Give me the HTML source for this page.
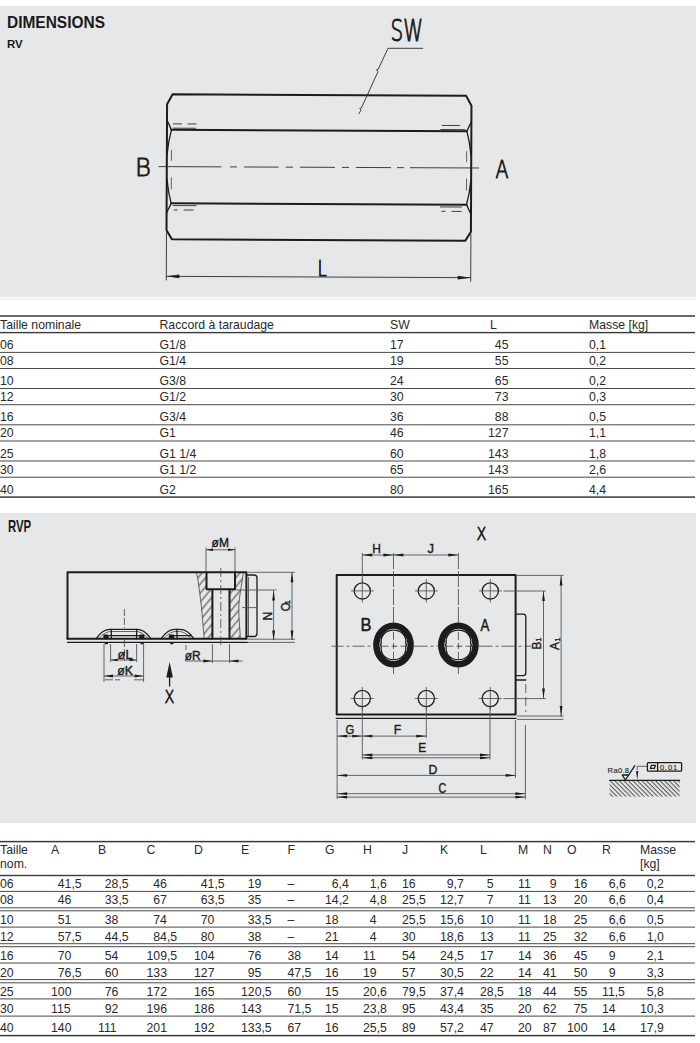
<!DOCTYPE html>
<html lang="fr">
<head>
<meta charset="utf-8">
<title>Dimensions RV / RVP</title>
<style>
html,body{margin:0;padding:0;background:#fff;}
body{font-family:"Liberation Sans",sans-serif;color:#222;}
#page{position:relative;width:700px;height:1043px;overflow:hidden;background:#fff;}
.panel{position:absolute;left:0;width:696px;background:#e6e7e8;}
.title{position:absolute;left:7px;top:14px;margin:0;font-size:15.6px;line-height:18px;font-weight:bold;color:#1a1a1a;white-space:nowrap;transform:scaleX(0.992);transform-origin:0 0;}
.sub{position:absolute;left:7px;margin:0;font-size:11.4px;line-height:12px;font-weight:bold;color:#1a1a1a;white-space:nowrap;}
.tbl{position:absolute;left:0;top:0;width:695px;font-size:12.25px;color:#2a2a2a;}
.row{position:absolute;left:0;width:695px;box-sizing:border-box;}
.row span{position:absolute;white-space:nowrap;line-height:14px;}
.row.g{transform:scaleY(1.1);transform-origin:0 11px;}
.row.g2{transform:scaleY(1.08);transform-origin:0 11px;}
.ln{position:absolute;left:0;width:695px;background:#5a5a5a;}
.ln.thick{background:#404040;}
svg{position:absolute;left:0;top:0;}
svg text{font-family:"Liberation Sans",sans-serif;fill:#1c1c1c;}
svg .lt{font-family:"DejaVu Sans Light","DejaVu Sans","Liberation Sans",sans-serif;}
.k{stroke:#1c1c1c;fill:none;stroke-width:2;stroke-linecap:round;stroke-linejoin:round;}
.m{stroke:#1c1c1c;fill:none;stroke-width:1.3;stroke-linecap:round;stroke-linejoin:round;}
.t{stroke:#4c4c4c;fill:none;stroke-width:0.85;}
.a{fill:#1c1c1c;stroke:none;}
.d{stroke:#2c2c2c;fill:none;stroke-width:0.9;}
</style>
</head>
<body>
<div id="page">
<div class="panel" style="top:6px;height:291.2px"></div>
<div class="panel" style="top:298px;height:2.4px;background:#f2f2f3"></div>
<div class="panel" style="top:512.5px;height:310px"></div>
<h1 class="title">DIMENSIONS</h1>
<div class="sub" style="top:37.6px">RV</div>
<div class="sub" style="left:8px;top:518.4px;transform:scaleY(1.4);transform-origin:0 0">RVP</div>
<svg class="rules" width="700" height="1043" viewBox="0 0 700 1043"><rect x="0" y="315.25" width="695" height="1.5" fill="#3a3a3a"/><rect x="0" y="331.90" width="695" height="1.4" fill="#3a3a3a"/><rect x="0" y="351.90" width="695" height="1" fill="#4a4a4a"/><rect x="0" y="368.00" width="695" height="1" fill="#4a4a4a"/><rect x="0" y="388.00" width="695" height="1" fill="#4a4a4a"/><rect x="0" y="404.20" width="695" height="1" fill="#4a4a4a"/><rect x="0" y="424.30" width="695" height="1" fill="#4a4a4a"/><rect x="0" y="440.50" width="695" height="1" fill="#4a4a4a"/><rect x="0" y="460.50" width="695" height="1" fill="#4a4a4a"/><rect x="0" y="476.70" width="695" height="1" fill="#4a4a4a"/><rect x="0" y="496.35" width="695" height="1.5" fill="#3a3a3a"/></svg>
<div class="tbl" id="t1">
<div class="row" style="top:318.4px;height:14px">
<span style="left:0">Taille nominale</span><span style="left:159.5px">Raccord à taraudage</span><span style="left:390px">SW</span>
<span style="left:490px">L</span>
<span style="left:589px">Masse [kg]</span></div>
<div class="row g" style="top:338.1px;height:14px">
<span style="left:0">06</span><span style="left:159.5px">G1/8</span><span style="left:390px">17</span>
<span style="right:186.5px">45</span>
<span style="left:589px">0,1</span></div>
<div class="row" style="top:354.1px;height:14px">
<span style="left:0">08</span><span style="left:159.5px">G1/4</span><span style="left:390px">19</span>
<span style="right:186.5px">55</span>
<span style="left:589px">0,2</span></div>
<div class="row g" style="top:374.1px;height:14px">
<span style="left:0">10</span><span style="left:159.5px">G3/8</span><span style="left:390px">24</span>
<span style="right:186.5px">65</span>
<span style="left:589px">0,2</span></div>
<div class="row" style="top:390.1px;height:14px">
<span style="left:0">12</span><span style="left:159.5px">G1/2</span><span style="left:390px">30</span>
<span style="right:186.5px">73</span>
<span style="left:589px">0,3</span></div>
<div class="row g" style="top:410.4px;height:14px">
<span style="left:0">16</span><span style="left:159.5px">G3/4</span><span style="left:390px">36</span>
<span style="right:186.5px">88</span>
<span style="left:589px">0,5</span></div>
<div class="row" style="top:426.3px;height:14px">
<span style="left:0">20</span><span style="left:159.5px">G1</span><span style="left:390px">46</span>
<span style="right:186.5px">127</span>
<span style="left:589px">1,1</span></div>
<div class="row g" style="top:446.6px;height:14px">
<span style="left:0">25</span><span style="left:159.5px">G1 1/4</span><span style="left:390px">60</span>
<span style="right:186.5px">143</span>
<span style="left:589px">1,8</span></div>
<div class="row" style="top:462.5px;height:14px">
<span style="left:0">30</span><span style="left:159.5px">G1 1/2</span><span style="left:390px">65</span>
<span style="right:186.5px">143</span>
<span style="left:589px">2,6</span></div>
<div class="row g" style="top:482.5px;height:14px">
<span style="left:0">40</span><span style="left:159.5px">G2</span><span style="left:390px">80</span>
<span style="right:186.5px">165</span>
<span style="left:589px">4,4</span></div>
</div>
<svg class="rules" width="700" height="1043" viewBox="0 0 700 1043"><rect x="0" y="840.85" width="695" height="1.5" fill="#3a3a3a"/><rect x="0" y="874.80" width="695" height="1.4" fill="#3a3a3a"/><rect x="0" y="890.90" width="695" height="1" fill="#4a4a4a"/><rect x="0" y="907.30" width="695" height="1" fill="#4a4a4a"/><rect x="0" y="910.30" width="695" height="1" fill="#4a4a4a"/><rect x="0" y="926.60" width="695" height="1" fill="#4a4a4a"/><rect x="0" y="943.20" width="695" height="1" fill="#4a4a4a"/><rect x="0" y="946.20" width="695" height="1" fill="#4a4a4a"/><rect x="0" y="962.50" width="695" height="1" fill="#4a4a4a"/><rect x="0" y="979.10" width="695" height="1" fill="#4a4a4a"/><rect x="0" y="982.30" width="695" height="1" fill="#4a4a4a"/><rect x="0" y="998.40" width="695" height="1" fill="#4a4a4a"/><rect x="0" y="1015.60" width="695" height="1" fill="#4a4a4a"/><rect x="0" y="1034.85" width="695" height="1.5" fill="#3a3a3a"/></svg>
<div class="tbl" id="t2">
<div class="row" style="top:843.3px;height:30px">
<span style="left:0px;line-height:14px">Taille<br>nom.</span>
<span style="left:51px;line-height:14px">A</span>
<span style="left:98px;line-height:14px">B</span>
<span style="left:146.5px;line-height:14px">C</span>
<span style="left:194px;line-height:14px">D</span>
<span style="left:241px;line-height:14px">E</span>
<span style="left:287.5px;line-height:14px">F</span>
<span style="left:325px;line-height:14px">G</span>
<span style="left:363px;line-height:14px">H</span>
<span style="left:402px;line-height:14px">J</span>
<span style="left:440px;line-height:14px">K</span>
<span style="left:480px;line-height:14px">L</span>
<span style="left:518px;line-height:14px">M</span>
<span style="left:543px;line-height:14px">N</span>
<span style="left:567px;line-height:14px">O</span>
<span style="left:602px;line-height:14px">R</span>
<span style="left:640px;line-height:14px">Masse<br>[kg]</span>
</div>
<div class="row" style="top:876.8px;height:14px">
<span style="left:0.0px">06</span>
<span style="left:57.8px">41,5</span>
<span style="left:104.8px">28,5</span>
<span style="left:153.3px">46</span>
<span style="left:200.8px">41,5</span>
<span style="left:247.8px">19</span>
<span style="left:287.5px">–</span>
<span style="left:331.8px">6,4</span>
<span style="left:369.8px">1,6</span>
<span style="left:402.0px">16</span>
<span style="left:446.8px">9,7</span>
<span style="left:486.8px">5</span>
<span style="left:518.0px">11</span>
<span style="left:549.8px">9</span>
<span style="left:573.8px">16</span>
<span style="left:608.8px">6,6</span>
<span style="left:646.8px">0,2</span>
</div>
<div class="row" style="top:893.2px;height:14px">
<span style="left:0.0px">08</span>
<span style="left:57.8px">46</span>
<span style="left:104.8px">33,5</span>
<span style="left:153.3px">67</span>
<span style="left:200.8px">63,5</span>
<span style="left:247.8px">35</span>
<span style="left:287.5px">–</span>
<span style="left:325.0px">14,2</span>
<span style="left:369.8px">4,8</span>
<span style="left:402.0px">25,5</span>
<span style="left:440.0px">12,7</span>
<span style="left:486.8px">7</span>
<span style="left:518.0px">11</span>
<span style="left:543.0px">13</span>
<span style="left:573.8px">20</span>
<span style="left:608.8px">6,6</span>
<span style="left:646.8px">0,4</span>
</div>
<div class="row" style="top:913.1px;height:14px">
<span style="left:0.0px">10</span>
<span style="left:57.8px">51</span>
<span style="left:104.8px">38</span>
<span style="left:153.3px">74</span>
<span style="left:200.8px">70</span>
<span style="left:247.8px">33,5</span>
<span style="left:287.5px">–</span>
<span style="left:325.0px">18</span>
<span style="left:369.8px">4</span>
<span style="left:402.0px">25,5</span>
<span style="left:440.0px">15,6</span>
<span style="left:480.0px">10</span>
<span style="left:518.0px">11</span>
<span style="left:543.0px">18</span>
<span style="left:573.8px">25</span>
<span style="left:608.8px">6,6</span>
<span style="left:646.8px">0,5</span>
</div>
<div class="row" style="top:929.5px;height:14px">
<span style="left:0.0px">12</span>
<span style="left:57.8px">57,5</span>
<span style="left:104.8px">44,5</span>
<span style="left:153.3px">84,5</span>
<span style="left:200.8px">80</span>
<span style="left:247.8px">38</span>
<span style="left:287.5px">–</span>
<span style="left:325.0px">21</span>
<span style="left:369.8px">4</span>
<span style="left:402.0px">30</span>
<span style="left:440.0px">18,6</span>
<span style="left:480.0px">13</span>
<span style="left:518.0px">11</span>
<span style="left:543.0px">25</span>
<span style="left:573.8px">32</span>
<span style="left:608.8px">6,6</span>
<span style="left:646.8px">1,0</span>
</div>
<div class="row" style="top:949.0px;height:14px">
<span style="left:0.0px">16</span>
<span style="left:57.8px">70</span>
<span style="left:104.8px">54</span>
<span style="left:146.5px">109,5</span>
<span style="left:194.0px">104</span>
<span style="left:247.8px">76</span>
<span style="left:287.5px">38</span>
<span style="left:325.0px">14</span>
<span style="left:363.0px">11</span>
<span style="left:402.0px">54</span>
<span style="left:440.0px">24,5</span>
<span style="left:480.0px">17</span>
<span style="left:518.0px">14</span>
<span style="left:543.0px">36</span>
<span style="left:573.8px">45</span>
<span style="left:608.8px">9</span>
<span style="left:646.8px">2,1</span>
</div>
<div class="row" style="top:965.6px;height:14px">
<span style="left:0.0px">20</span>
<span style="left:57.8px">76,5</span>
<span style="left:104.8px">60</span>
<span style="left:146.5px">133</span>
<span style="left:194.0px">127</span>
<span style="left:247.8px">95</span>
<span style="left:287.5px">47,5</span>
<span style="left:325.0px">16</span>
<span style="left:363.0px">19</span>
<span style="left:402.0px">57</span>
<span style="left:440.0px">30,5</span>
<span style="left:480.0px">22</span>
<span style="left:518.0px">14</span>
<span style="left:543.0px">41</span>
<span style="left:573.8px">50</span>
<span style="left:608.8px">9</span>
<span style="left:646.8px">3,3</span>
</div>
<div class="row" style="top:984.9px;height:14px">
<span style="left:0.0px">25</span>
<span style="left:51.0px">100</span>
<span style="left:104.8px">76</span>
<span style="left:146.5px">172</span>
<span style="left:194.0px">165</span>
<span style="left:241.0px">120,5</span>
<span style="left:287.5px">60</span>
<span style="left:325.0px">15</span>
<span style="left:363.0px">20,6</span>
<span style="left:402.0px">79,5</span>
<span style="left:440.0px">37,4</span>
<span style="left:480.0px">28,5</span>
<span style="left:518.0px">18</span>
<span style="left:543.0px">44</span>
<span style="left:573.8px">55</span>
<span style="left:602.0px">11,5</span>
<span style="left:646.8px">5,8</span>
</div>
<div class="row" style="top:1001.9px;height:14px">
<span style="left:0.0px">30</span>
<span style="left:51.0px">115</span>
<span style="left:104.8px">92</span>
<span style="left:146.5px">196</span>
<span style="left:194.0px">186</span>
<span style="left:241.0px">143</span>
<span style="left:287.5px">71,5</span>
<span style="left:325.0px">15</span>
<span style="left:363.0px">23,8</span>
<span style="left:402.0px">95</span>
<span style="left:440.0px">43,4</span>
<span style="left:480.0px">35</span>
<span style="left:518.0px">20</span>
<span style="left:543.0px">62</span>
<span style="left:573.8px">75</span>
<span style="left:602.0px">14</span>
<span style="left:640.0px">10,3</span>
</div>
<div class="row g2" style="top:1021.4px;height:14px">
<span style="left:0.0px">40</span>
<span style="left:51.0px">140</span>
<span style="left:98.0px">111</span>
<span style="left:146.5px">201</span>
<span style="left:194.0px">192</span>
<span style="left:241.0px">133,5</span>
<span style="left:287.5px">67</span>
<span style="left:325.0px">16</span>
<span style="left:363.0px">25,5</span>
<span style="left:402.0px">89</span>
<span style="left:440.0px">57,2</span>
<span style="left:480.0px">47</span>
<span style="left:518.0px">20</span>
<span style="left:543.0px">87</span>
<span style="left:567.0px">100</span>
<span style="left:602.0px">14</span>
<span style="left:640.0px">17,9</span>
</div>
</div>
<svg width="700" height="1043" viewBox="0 0 700 1043">
<g transform="rotate(0.25 319 167)">
<path class="k" d="M172.3,95.0 H465.7 L471.2,105.0 V231.0 L465.7,240.0 H172.3 L166.8,231.0 V105.0 Z"/>
<path class="k" d="M171.3,130.5 H466.7 M171.3,204.0 H466.7"/>
<path class="m" stroke-width="1.5" d="M171.3,130.5 L167.10000000000002,121.5 M171.3,204.0 L167.10000000000002,213.0 M466.7,130.5 L470.9,121.5 M466.7,204.0 L470.9,213.0"/>
<path class="m" stroke-width="1.5" d="M171.3,130.5 C169.4,137.5 168.0,144.5 167.10000000000002,154.5 M171.3,204.0 C169.4,197.0 168.0,190.0 167.10000000000002,180.0 M466.7,130.5 C468.59999999999997,137.5 470.0,144.5 470.9,154.5 M466.7,204.0 C468.59999999999997,197.0 470.0,190.0 470.9,180.0"/>
<path class="t" d="M171.4,150.5 V161.5 M171.4,178.0 V190.0 M466.59999999999997,150.5 V161.5 M466.59999999999997,178.0 V190.0"/>
<path class="d" stroke-width="0.8" d="M172.8,124.5 h9 m5.5,0 h9 M173.8,210.6 h4 m6,0 h10"/>
<path class="d" stroke-width="1.1" d="M172.8,128.8 h23 M172.8,206.2 h24"/>
<path class="d" stroke-width="0.8" d="M441.7,124.9 h18 M441.7,210.8 h4 m6,0 h10"/>
<path class="d" stroke-width="1.1" d="M440.2,129.0 h25 M440.2,206.4 h22"/>
<path class="d" stroke-width="0.7" d="M158.6,167.3 H221.4 M230,167.3 H237 M244,167.3 H278.6 M285.7,167.3 H293 M300,167.3 H335 M342,167.3 H349 M356,167.3 H391 M397,167.3 H404 M410,167.3 H479"/>
<path class="d" d="M166.8,233.0 V281 M471.2,233.0 V281 M166.8,277 H471.2"/>
<polygon class="a" points="166.8,277.0 179.8,275.2 179.8,278.8"/>
<polygon class="a" points="471.2,277.0 458.2,278.8 458.2,275.2"/>
</g>
<path class="d" d="M423.2,48.3 H388 L378.2,69.4 l-1.8,0.5 l1.7,1.5 L361.4,108 l-1.7,0.4 l1.5,1.6 L358.6,114"/>
<text class="lt" transform="translate(390.4,41.2) scale(0.66,1)" font-size="30.4" stroke="#1c1c1c" stroke-width="0.9" vector-effect="non-scaling-stroke" stroke-linejoin="round">SW</text>
<text class="lt" transform="translate(135.0,175.8) scale(0.977,1)" font-size="24.9" stroke="#1c1c1c" stroke-width="0.9" vector-effect="non-scaling-stroke" stroke-linejoin="round">B</text>
<text class="lt" transform="translate(495.6,177.8) scale(0.75,1)" font-size="25.4" stroke="#1c1c1c" stroke-width="0.9" vector-effect="non-scaling-stroke" stroke-linejoin="round">A</text>
<text class="lt" transform="translate(317.4,275.8) scale(0.78,1)" font-size="21.4" stroke="#1c1c1c" stroke-width="0.9" vector-effect="non-scaling-stroke" stroke-linejoin="round">L</text>
</svg>
<svg width="700" height="1043" viewBox="0 0 700 1043">
<defs><pattern id="hatch" width="5.8" height="5.8" patternUnits="userSpaceOnUse" patternTransform="rotate(40)"><line x1="1" y1="-1" x2="1" y2="7" stroke="#222" stroke-width="0.85"/></pattern>
<pattern id="hatch2" width="3.2" height="3.2" patternUnits="userSpaceOnUse" patternTransform="rotate(-45)"><line x1="1" y1="-1" x2="1" y2="5" stroke="#2a2a2a" stroke-width="0.8"/></pattern></defs>
<path fill="url(#hatch)" stroke="none" d="M196.3,572.3 C198.5,580 198.5,586 199.6,592 C201,602 202,612 202.6,620 C203.2,628 203.8,634 204.4,638.8 H212.5 V589.5 H206.5 V572.3 Z"/>
<path fill="url(#hatch)" stroke="none" d="M240.3,638.8 C240,628 238.6,618 238.8,607 C239,596 242,584 243.4,572.3 H234.5 V589.5 H229 V638.8 Z"/>
<path class="t" d="M196.3,572.3 C198.5,580 198.5,586 199.6,592 C201,602 202,612 202.6,620 C203.2,628 203.8,634 204.4,638.8 M240.3,638.8 C240,628 238.6,618 238.8,607 C239,596 242,584 243.4,572.3"/>
<path class="k" stroke-width="1.4" d="M67.5,638.8 V572.3 H246.4 V638.8"/>
<path class="k" stroke-width="1.3" d="M67.5,638.8 H246.4"/>
<path class="m" stroke-width="1.2" d="M67.5,642.3 H247.4"/>
<path class="k" stroke-width="1.3" d="M206.5,572.3 V589.3 H235 V572.3 M212.4,589.3 V638.8 M229.5,589.3 V638.8"/>
<path class="t" d="M220.8,568 V646" stroke-dasharray="9 3 2 3"/>
<path class="m" d="M246.4,575 H254 Q257,575 257,578 V633.5 Q257,636.5 254,636.5 H246.4"/>
<path class="t" d="M248.5,577 V636 M242,607.6 H257.6"/>
<path class="m" stroke-width="0.85" d="M96,638.8 C99,634.3 104,629.3 110,629.3 H137 C143,629.3 148,634.3 151,638.8"/><path class="t" d="M99,638.3 C102,635.3 106,631.5 111,631.5 H136 C141,631.5 145,635.3 148,638.3"/><rect class="a" x="103.3" y="634.4" width="5.4" height="4.8" rx="1.4"/><ellipse class="a" cx="106.3" cy="643.4" rx="1.8" ry="0.9"/><rect class="a" x="139.10000000000002" y="634.4" width="5.4" height="4.8" rx="1.4"/><ellipse class="a" cx="142.10000000000002" cy="643.4" rx="1.8" ry="0.9"/>
<path class="m" stroke-width="1.1" d="M111.3,629.5 V638.8 M136.6,629.5 V638.8 M109,635.6 H139"/>
<path class="m" stroke-width="0.85" d="M161,638.8 C164,634.3 169,629.3 175,629.3 H180 C186,629.3 191,634.3 194,638.8"/><path class="t" d="M164,638.3 C167,635.3 171,631.5 176,631.5 H179 C184,631.5 188,635.3 191,638.3"/><rect class="a" x="168.8" y="634.4" width="5.4" height="4.8" rx="1.4"/><ellipse class="a" cx="171.8" cy="643.4" rx="1.8" ry="0.9"/>
<path class="m" stroke-width="1.1" d="M177,629.5 V638.8 M174,635.6 H191"/>
<path class="t" d="M124.4,609 V628 M124.4,640 V661" stroke-dasharray="7 2"/>
<path class="t" d="M206,547.5 V572.3 M235,547.5 V572.3 M206,549.8 H235"/>
<polygon class="a" points="206.0,549.8 213.0,548.5 213.0,551.1"/>
<polygon class="a" points="235.0,549.8 228.0,551.1 228.0,548.5"/>
<text transform="translate(211.6,547.4) scale(0.95,1)" font-size="12.6" stroke="#1c1c1c" stroke-width="0.4" vector-effect="non-scaling-stroke" stroke-linejoin="round">øM</text>
<path class="t" d="M110.6,644 V662 M136.6,644 V662 M110.6,660 H136.6 M104,644 V682 M143.6,644 V682 M104,676 H143.6"/>
<path class="t" d="M105,679.8 h8 m2,0 h5 M134,679.8 h10"/>
<polygon class="a" points="110.6,660.0 117.6,658.7 117.6,661.3"/>
<polygon class="a" points="136.6,660.0 129.6,661.3 129.6,658.7"/>
<polygon class="a" points="104.0,676.0 113.0,674.6 113.0,677.4"/>
<polygon class="a" points="143.6,676.0 134.6,677.4 134.6,674.6"/>
<text transform="translate(117.6,658.8) scale(0.98,1)" font-size="13" stroke="#1c1c1c" stroke-width="0.4" vector-effect="non-scaling-stroke" stroke-linejoin="round">øL</text>
<text transform="translate(117.2,675.1) scale(0.95,1)" font-size="13" stroke="#1c1c1c" stroke-width="0.4" vector-effect="non-scaling-stroke" stroke-linejoin="round">øK</text>
<path class="t" d="M212.4,644 V663 M229.5,644 V663 M185,661 H242.5 M186,645 V650" />
<polygon class="a" points="212.4,661.0 203.4,662.4 203.4,659.6"/>
<polygon class="a" points="229.5,661.0 238.5,659.6 238.5,662.4"/>
<text transform="translate(184.8,659.6) scale(0.95,1)" font-size="12.6" stroke="#1c1c1c" stroke-width="0.4" vector-effect="non-scaling-stroke" stroke-linejoin="round">øR</text>
<path class="m" stroke-width="1.5" d="M169.6,674 V686"/>
<polygon class="a" points="169.6,662.0 172.9,677.5 166.3,677.5"/>
<text class="lt" transform="translate(164.4,703.2) scale(0.82,1)" font-size="17.6" stroke="#1c1c1c" stroke-width="0.8" vector-effect="non-scaling-stroke" stroke-linejoin="round">X</text>
<path class="t" d="M247.4,572.3 H295 M235.5,590 H276.4 M248,639.2 H295 M248,642.4 H295 M273.6,590.4 V640 M292,572.3 V640"/>
<polygon class="a" points="273.6,590.4 275.0,600.4 272.2,600.4"/>
<polygon class="a" points="273.6,640.5 272.2,630.5 275.0,630.5"/>
<polygon class="a" points="292.0,572.3 293.4,582.3 290.6,582.3"/>
<polygon class="a" points="292.0,640.5 290.6,630.5 293.4,630.5"/>
<text transform="translate(272.4,620.6) rotate(-90) scale(0.95,1)" font-size="12.6" stroke="#1c1c1c" stroke-width="0.4" vector-effect="non-scaling-stroke" stroke-linejoin="round">N</text>
<text transform="translate(289.6,611.2) rotate(-90) scale(0.9,1)" font-size="12.6" stroke="#1c1c1c" stroke-width="0.4" vector-effect="non-scaling-stroke" stroke-linejoin="round">O</text>
<text transform="translate(289.6,604.0) rotate(-90)" font-size="7" stroke="#1c1c1c" stroke-width="0.4" vector-effect="non-scaling-stroke" stroke-linejoin="round">1</text>
<rect class="k" stroke-width="1.5" x="336.7" y="575.0" width="178.90000000000003" height="139.60000000000002"/>
<path class="m" stroke-width="1.3" d="M336.2,718.3 H516.1"/>
<circle class="m" stroke-width="1.8" cx="362.3" cy="590.9" r="8.1"/>
<path class="t" stroke="#777" d="M350.8,590.9 H373.8 M362.3,579.4 V602.4"/>
<circle class="m" stroke-width="1.8" cx="426.3" cy="590.9" r="8.1"/>
<path class="t" stroke="#777" d="M414.8,590.9 H437.8 M426.3,579.4 V602.4"/>
<circle class="m" stroke-width="1.8" cx="490.3" cy="590.9" r="8.1"/>
<path class="t" stroke="#777" d="M478.8,590.9 H501.8 M490.3,579.4 V602.4"/>
<circle class="m" stroke-width="1.8" cx="362.3" cy="698.5" r="8.1"/>
<path class="t" stroke="#777" d="M350.8,698.5 H373.8 M362.3,687.0 V710.0"/>
<circle class="m" stroke-width="1.8" cx="426.3" cy="698.5" r="8.1"/>
<path class="t" stroke="#777" d="M414.8,698.5 H437.8 M426.3,687.0 V710.0"/>
<circle class="m" stroke-width="1.8" cx="490.3" cy="698.5" r="8.1"/>
<path class="t" stroke="#777" d="M478.8,698.5 H501.8 M490.3,687.0 V710.0"/>
<ellipse cx="393.5" cy="644.9" rx="17.05" ry="19.2" fill="none" stroke="#1c1c1c" stroke-width="6.6"/>
<ellipse cx="393.5" cy="644.9" rx="13.5" ry="15.7" fill="none" stroke="#f4f4f4" stroke-width="0.9"/>
<path class="m" stroke-width="1" d="M381.3,643.4 C380.1,635.9 385.5,630.1 393.5,630.1 C401.5,630.1 406.9,635.9 405.7,643.4 L406.5,644.9 L405.7,646.4 C406.9,653.9 401.5,659.6999999999999 393.5,659.6999999999999 C385.5,659.6999999999999 380.1,653.9 381.3,646.4 L380.5,644.9 Z"/>
<path class="t" stroke="#555" d="M381.5,646.2 h7 m3,0 h4 m-2,0 h4 m3,0 h7 M393.5,631.9 v8 m0,3 v4 m0,-1 v3 m0,3 v8"/>
<ellipse cx="458.4" cy="644.9" rx="17.05" ry="19.2" fill="none" stroke="#1c1c1c" stroke-width="6.6"/>
<ellipse cx="458.4" cy="644.9" rx="13.5" ry="15.7" fill="none" stroke="#f4f4f4" stroke-width="0.9"/>
<path class="m" stroke-width="1" d="M446.2,643.4 C445.0,635.9 450.4,630.1 458.4,630.1 C466.4,630.1 471.79999999999995,635.9 470.59999999999997,643.4 L471.4,644.9 L470.59999999999997,646.4 C471.79999999999995,653.9 466.4,659.6999999999999 458.4,659.6999999999999 C450.4,659.6999999999999 445.0,653.9 446.2,646.4 L445.4,644.9 Z"/>
<path class="t" stroke="#555" d="M446.4,646.2 h7 m3,0 h4 m-2,0 h4 m3,0 h7 M458.4,631.9 v8 m0,3 v4 m0,-1 v3 m0,3 v8"/>
<path class="t" d="M331.5,646.2 H374" stroke-dasharray="12 3 3 3"/>
<path class="t" d="M413.5,646.2 H438 M478.5,646.2 H531" stroke-dasharray="14 3 3 3"/>
<path class="t" d="M393.5,553 V623 M458.4,553 V623 M393.5,667 V674 M458.4,667 V674" stroke-dasharray="16 2"/>
<path class="t" d="M362.3,553 V582"/>
<path class="m" d="M515.6,614.2 H523 Q525.8,614.2 525.8,617 V673 Q525.8,675.6 523,675.6 H515.6 M515.6,680 H525.8"/>
<path class="t" d="M525.8,684 V712" stroke-dasharray="9 4"/>
<path class="t" d="M362.3,555 H458.3"/>
<polygon class="a" points="362.3,555.0 372.3,553.6 372.3,556.4"/>
<polygon class="a" points="393.4,555.0 383.4,556.4 383.4,553.6"/>
<polygon class="a" points="393.4,555.0 403.4,553.6 403.4,556.4"/>
<polygon class="a" points="458.3,555.0 448.3,556.4 448.3,553.6"/>
<text transform="translate(372.2,552.8) scale(0.92,1)" font-size="13" stroke="#1c1c1c" stroke-width="0.4" vector-effect="non-scaling-stroke" stroke-linejoin="round">H</text>
<text transform="translate(427.6,552.8)" font-size="13" stroke="#1c1c1c" stroke-width="0.4" vector-effect="non-scaling-stroke" stroke-linejoin="round">J</text>
<text class="lt" transform="translate(476.6,539.6) scale(0.82,1)" font-size="17.6" stroke="#1c1c1c" stroke-width="0.8" vector-effect="non-scaling-stroke" stroke-linejoin="round">X</text>
<text transform="translate(360.6,631.0) scale(0.9,1)" font-size="18.2" stroke="#1c1c1c" stroke-width="0.5" vector-effect="non-scaling-stroke" stroke-linejoin="round">B</text>
<text transform="translate(480.6,631.4) scale(0.76,1)" font-size="17.4" stroke="#1c1c1c" stroke-width="0.5" vector-effect="non-scaling-stroke" stroke-linejoin="round">A</text>
<path class="t" d="M517.1,575.4 H563.5 M503.5,591 H546 M503.5,698.6 H546 M517,716 H563.5 M517,719.4 H563.5 M543.5,591 V698.6 M561.1,575.4 V717"/>
<polygon class="a" points="543.5,591.0 544.9,601.0 542.1,601.0"/>
<polygon class="a" points="543.5,698.6 542.1,688.6 544.9,688.6"/>
<polygon class="a" points="561.1,575.4 562.5,585.4 559.7,585.4"/>
<polygon class="a" points="561.1,716.0 559.7,706.0 562.5,706.0"/>
<text transform="translate(541.0,649.6) rotate(-90) scale(0.92,1)" font-size="13" stroke="#1c1c1c" stroke-width="0.4" vector-effect="non-scaling-stroke" stroke-linejoin="round">B</text>
<text transform="translate(541.4,641.4) rotate(-90)" font-size="7" stroke="#1c1c1c" stroke-width="0.4" vector-effect="non-scaling-stroke" stroke-linejoin="round">1</text>
<text transform="translate(559.4,650.0) rotate(-90) scale(0.92,1)" font-size="13" stroke="#1c1c1c" stroke-width="0.4" vector-effect="non-scaling-stroke" stroke-linejoin="round">A</text>
<text transform="translate(559.6,641.6) rotate(-90)" font-size="7" stroke="#1c1c1c" stroke-width="0.4" vector-effect="non-scaling-stroke" stroke-linejoin="round">1</text>
<path class="t" d="M337.09999999999997,720 V799 M362.3,707 V759.5 M426.3,707 V738 M490,707 V759.5 M515.4,720 V778 M525.4,725 V799.5"/>
<path class="t" d="M337.09999999999997,736.1 H426.3 M362.3,754.9 H490 M362.3,757.8 H490 M337.09999999999997,775.4 H515.6 M337.09999999999997,793.7 H525.4 M337.09999999999997,797.1 H525.4"/>
<polygon class="a" points="337.1,736.1 347.1,734.7 347.1,737.5"/>
<polygon class="a" points="362.3,736.1 352.3,737.5 352.3,734.7"/>
<polygon class="a" points="362.3,736.1 372.3,734.7 372.3,737.5"/>
<polygon class="a" points="426.3,736.1 416.3,737.5 416.3,734.7"/>
<polygon class="a" points="362.3,754.9 372.3,753.5 372.3,756.3"/>
<polygon class="a" points="490.0,754.9 480.0,756.3 480.0,753.5"/>
<polygon class="a" points="362.3,757.8 372.3,756.4 372.3,759.2"/>
<polygon class="a" points="490.0,757.8 480.0,759.2 480.0,756.4"/>
<polygon class="a" points="337.1,775.4 347.1,774.0 347.1,776.8"/>
<polygon class="a" points="515.6,775.4 505.6,776.8 505.6,774.0"/>
<polygon class="a" points="337.1,793.7 347.1,792.3 347.1,795.1"/>
<polygon class="a" points="525.4,793.7 515.4,795.1 515.4,792.3"/>
<polygon class="a" points="337.1,797.1 347.1,795.7 347.1,798.5"/>
<polygon class="a" points="525.4,797.1 515.4,798.5 515.4,795.7"/>
<text transform="translate(345.4,734.4) scale(0.84,1)" font-size="13.4" stroke="#1c1c1c" stroke-width="0.4" vector-effect="non-scaling-stroke" stroke-linejoin="round">G</text>
<text transform="translate(393.8,734.4) scale(0.92,1)" font-size="13.4" stroke="#1c1c1c" stroke-width="0.4" vector-effect="non-scaling-stroke" stroke-linejoin="round">F</text>
<text transform="translate(418.2,752.2) scale(0.88,1)" font-size="13.6" stroke="#1c1c1c" stroke-width="0.4" vector-effect="non-scaling-stroke" stroke-linejoin="round">E</text>
<text transform="translate(428.6,774.4) scale(0.9,1)" font-size="13.6" stroke="#1c1c1c" stroke-width="0.4" vector-effect="non-scaling-stroke" stroke-linejoin="round">D</text>
<text transform="translate(438.4,792.6) scale(0.78,1)" font-size="13.8" stroke="#1c1c1c" stroke-width="0.4" vector-effect="non-scaling-stroke" stroke-linejoin="round">C</text>
<rect x="609.6" y="781" width="70" height="15.6" fill="url(#hatch2)" stroke="none"/>
<path class="m" stroke-width="1.4" d="M609.6,780.4 H679.6"/>
<path class="m" stroke-width="1" d="M622.2,775 H628.4 M622.2,775 L625.4,780 L634.8,765.6"/>
<path class="t" d="M637.2,770 V766.3 H647.4"/>
<polygon class="a" points="637.2,780.0 636.1,771.0 638.3,771.0"/>
<rect class="m" stroke-width="1" x="647.4" y="762.6" width="34.2" height="8.6" rx="1"/>
<path class="m" stroke-width="1" d="M657.6,762.6 V771.2"/>
<path class="m" stroke-width="0.9" d="M650.4,768.4 L651.4,765.4 H655.4 L654.4,768.4 Z"/>
<text transform="translate(607.6,772.8)" font-size="7.6" letter-spacing="0.3" stroke="#1c1c1c" stroke-width="0.12" vector-effect="non-scaling-stroke" stroke-linejoin="round">Ra0.8</text>
<text transform="translate(660.0,770.2)" font-size="7.6" letter-spacing="0.8" stroke="#1c1c1c" stroke-width="0.12" vector-effect="non-scaling-stroke" stroke-linejoin="round">0.01</text>
</svg>
</div>
</body>
</html>
